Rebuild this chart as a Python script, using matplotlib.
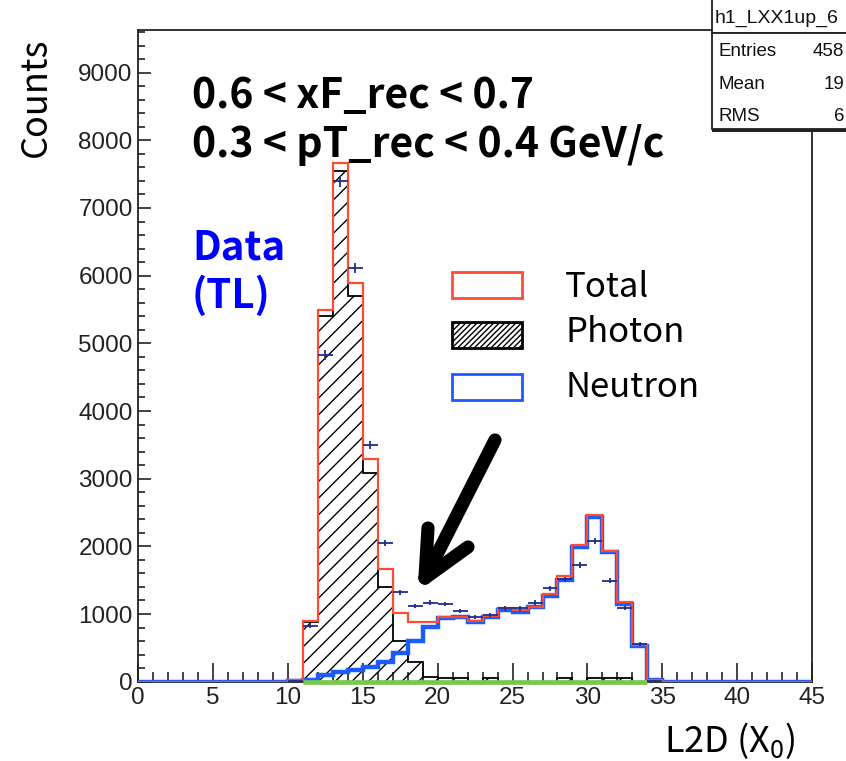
import numpy as np
import matplotlib
matplotlib.use("Agg")
import matplotlib.pyplot as plt
from matplotlib.patches import Rectangle
from matplotlib.lines import Line2D
from matplotlib.ticker import MultipleLocator

W, H = 846, 761

# histogram binning: 45 bins of width 1 between 0 and 45
edges = np.arange(0, 46, 1)

total = [0] * 10 + [20, 895, 5494, 7672, 5887, 3296, 1670, 1009, 875, 880,
                    960, 960, 900, 970, 1083, 1058, 1110, 1289, 1559, 2027,
                    2459, 1933, 1171, 537, 20] + [0] * 10
photon = [0] * 10 + [5, 876, 5410, 7550, 5705, 3089, 1402, 600, 295, 70,
                     50, 50, 0, 50, 0, 0, 0, 0, 50, 0,
                     50, 50, 50, 0, 0] + [0] * 10
neutron = [0] * 10 + [15, 25, 99, 148, 172, 221, 295, 423, 600, 810,
                      935, 950, 876, 950, 1058, 1033, 1098, 1260, 1510, 1990,
                      2430, 1910, 1150, 525, 20] + [0] * 10
data = [0] * 10 + [15, 822, 4830, 7392, 6114, 3502, 2051, 1319, 1117, 1166,
                   1146, 1043, 959, 984, 1083, 1083, 1166, 1378, 1511, 1722,
                   2076, 1495, 1090, 556, 15] + [0] * 10

# empty (all-zero) component drawn in green
other_edges = np.arange(11, 35, 1)
other = np.zeros(len(other_edges) - 1)

x_ticks = np.arange(0, 50, 5)
y_ticks = np.arange(0, 10000, 1000)

cut_lines = ["0.6 < xF_rec < 0.7", "0.3 < pT_rec < 0.4 GeV/c"]
legend_labels = ["Total", "Photon", "Neutron"]
stats_title = "h1_LXX1up_6"
# values only partly visible in the picture (the box runs off the canvas)
stats_rows = [("Entries", "458"), ("Mean", "19"), ("RMS", "6")]

RED = "#ff4b32"
BLUE = "#1a5cff"
GREEN = "#78c850"
DATA_COL = "#1c2f8c"
KR = ["Noto Sans CJK KR", "DejaVu Sans"]
TICKFONT = "Liberation Sans"

plt.rcParams["font.family"] = KR
plt.rcParams["mathtext.default"] = "regular"
plt.rcParams["hatch.linewidth"] = 1.0


def fx(x):
    return x / W


def fy(y):
    return 1 - y / H


fig = plt.figure(figsize=(W / 100, H / 100), dpi=100)
ax = fig.add_axes([fx(138.3), fy(681.7), fx(812) - fx(138.3), fy(30) - fy(681.7)])

centers = 0.5 * (edges[:-1] + edges[1:])

ax.stairs(photon, edges, fill=True, facecolor="none", edgecolor="black",
          hatch="//", linewidth=1.3, zorder=2)
ax.stairs(neutron, edges, color=BLUE, linewidth=3.2, zorder=3)
ax.stairs(total, edges, color=RED, linewidth=1.6, zorder=4)
ax.stairs(other, other_edges, color=GREEN, linewidth=3.4, zorder=4.5,
          clip_on=False)

d = np.array(data, dtype=float)
mask = d > 0
ax.errorbar(centers[mask], d[mask], xerr=0.5, yerr=np.sqrt(d[mask]),
            fmt="none", ecolor=DATA_COL, elinewidth=1.3, capsize=0, zorder=5)

ax.set_xlim(0, 45)
ax.set_ylim(0, 9630)
ax.set_xticks(x_ticks)
ax.set_yticks(y_ticks)
ax.xaxis.set_minor_locator(MultipleLocator(1))
ax.yaxis.set_minor_locator(MultipleLocator(200))
ax.tick_params(axis="both", which="both", direction="in", top=False, right=False,
               width=1.2, colors="#222222")
ax.tick_params(axis="x", which="major", length=14, pad=4)
ax.tick_params(axis="x", which="minor", length=7)
ax.tick_params(axis="y", which="major", length=9.5, pad=4)
ax.tick_params(axis="y", which="minor", length=5)
for lab in ax.get_xticklabels() + ax.get_yticklabels():
    lab.set_fontfamily(TICKFONT)
    lab.set_fontsize(17.5)
    lab.set_color("#222222")
for s in ax.spines.values():
    s.set_linewidth(1.3)
    s.set_color("#222222")

# axis titles
fig.text(fx(46), fy(97), "Counts", rotation=90, rotation_mode="anchor",
         ha="center", va="baseline", fontsize=26, color="black")
fig.text(fx(730), fy(752), "L2D (X$_0$)", ha="center", va="baseline",
         fontsize=26, color="black")

# kinematic cuts
fig.text(fx(192), fy(108), cut_lines[0], ha="left", va="baseline",
         fontsize=29.5, fontweight="bold", color="black")
fig.text(fx(192), fy(157), cut_lines[1], ha="left", va="baseline",
         fontsize=29.5, fontweight="bold", color="black")
fig.text(fx(192), fy(260), "Data", ha="left", va="baseline",
         fontsize=29, fontweight="bold", color="#0000ff")
fig.text(fx(192), fy(308), "(TL)", ha="left", va="baseline",
         fontsize=29, fontweight="bold", color="#0000ff")

# legend
box_w, box_h = 70, 26
boxes = [(272, dict(facecolor="white", edgecolor=RED, linewidth=2.0)),
         (322, dict(facecolor="white", edgecolor="black", linewidth=2.0, hatch="//////")),
         (374, dict(facecolor="white", edgecolor=BLUE, linewidth=2.0))]
baselines = [297, 342, 397]
for (ytop, style), lab, base in zip(boxes, legend_labels, baselines):
    fig.add_artist(Rectangle((fx(452), fy(ytop + box_h)), box_w / W, box_h / H,
                             transform=fig.transFigure, **style))
    fig.text(fx(565), fy(base), lab, ha="left", va="baseline", fontsize=25,
             color="black")

# arrow
arrow_pts = [((495, 440), (425, 578)), ((425, 578), (428, 528)), ((425, 578), (468, 547))]
for (x0, y0), (x1, y1) in arrow_pts:
    fig.add_artist(Line2D([fx(x0), fx(x1)], [fy(y0), fy(y1)], transform=fig.transFigure,
                          color="black", linewidth=9.5, solid_capstyle="round"))

# stats box (runs off the canvas edge)
fig.add_artist(Rectangle((fx(711.5), fy(33)), (W + 60 - 711.5) / W, 36 / H,
                         transform=fig.transFigure, facecolor="white",
                         edgecolor="#222222", linewidth=1.3, zorder=10))
fig.add_artist(Rectangle((fx(711.5), fy(129)), (W + 60 - 711.5) / W, 96 / H,
                         transform=fig.transFigure, facecolor="white",
                         edgecolor="#222222", linewidth=1.3, zorder=10))
fig.add_artist(Line2D([fx(713), fx(W)], [fy(130), fy(130)], transform=fig.transFigure,
                      color="#222222", linewidth=2.2, zorder=11))
fig.text(fx(715), fy(23), stats_title, ha="left", va="baseline", fontsize=14,
         family=TICKFONT, color="#111111", zorder=12)
row_base = [56, 89, 121]
for (name, val), b in zip(stats_rows, row_base):
    fig.text(fx(719), fy(b), name, ha="left", va="baseline", fontsize=13.5,
             family=TICKFONT, color="#111111", zorder=12)
    fig.text(fx(W - 2), fy(b), val, ha="right", va="baseline", fontsize=13.5,
             family=TICKFONT, color="#111111", zorder=12)

fig.savefig("out.png", dpi=100)
